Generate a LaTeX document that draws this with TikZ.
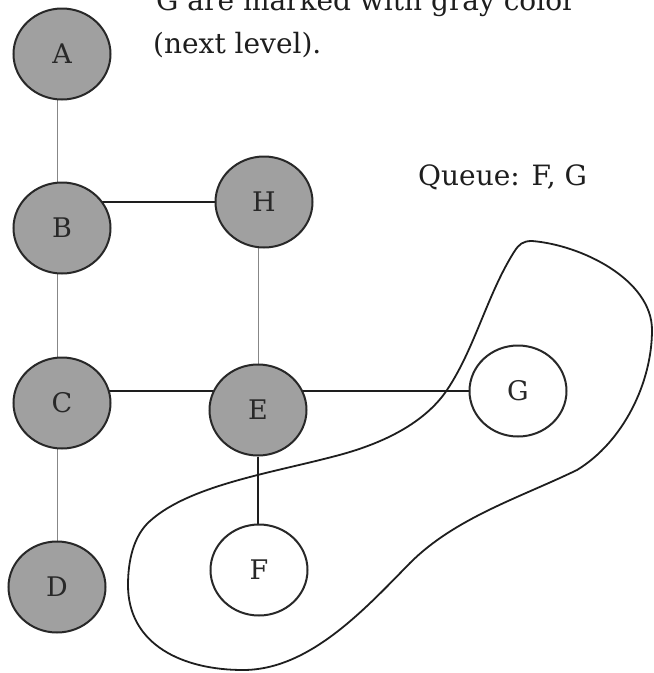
\documentclass[tikz,border=0pt]{standalone}
\usepackage{fontspec}
\setmainfont{DejaVu Serif}
\usepackage{tikz}
\usetikzlibrary{shapes.geometric, backgrounds}
\usepackage{xcolor}
\definecolor{visitgray}{RGB}{160, 160, 160}
\definecolor{rimgray}{RGB}{40, 40, 40}
\definecolor{edgegray}{RGB}{135, 135, 135}
\definecolor{inkblack}{RGB}{30, 30, 30}

\tikzset{
  vertex/.style={ellipse, draw=rimgray, line width=2pt, inner sep=0pt,
    minimum width=97pt, minimum height=91pt, text=rimgray,
    font=\fontsize{27}{32}\selectfont},
  visited/.style={vertex, fill=visitgray},
  fresh/.style={vertex, fill=white},
  lightedge/.style={edgegray, line width=1pt},
  heavyedge/.style={inkblack, line width=2.8pt},
  note/.style={anchor=base west, inner sep=0pt, text=inkblack,
    font=\fontsize{28}{34}\selectfont}
}

\begin{document}
\begin{tikzpicture}[x=1pt, y=-1pt]
    \useasboundingbox (0,0) rectangle (654,673);

    % caption text
    \node[note] (capone) at (156,10) {G are marked with gray color};
    \node[note] (captwo) at (153,53) {(next level).};
    \node[note] (queue) at (418,185) {Queue: F, G};

    % vertices already reached
    \foreach \name/\x/\y in {A/62/54, B/62/228, H/264/202, C/62/403, E/258/410, D/57/587}{
      \node[visited] (\name) at (\x,\y) {\name};
    }

    % vertices of the next level
    \foreach \name/\x/\y in {G/518/391, F/259/570}{
      \node[fresh] (\name) at (\x,\y) {\name};
    }

    % edges, behind the vertices
    \begin{scope}[on background layer]
      \draw[lightedge] (D |- A) -- (D |- B);
      \draw[lightedge] (D |- B) -- (D |- C);
      \draw[lightedge] (D |- C) -- (D);
      \draw[lightedge] (E |- H) -- (E);
      \draw[heavyedge] (B |- H) -- (H);
      \draw[heavyedge] (C |- G) -- (E |- G);
      \draw[heavyedge] (E |- G) -- (G);
      \draw[heavyedge] (E) -- (E |- F);
    \end{scope}

    % boundary round the next level
    \draw[inkblack, line width=1.8pt, line join=round]
      (532,241) .. controls (582,245) and (652,280) .. (652,330)
      .. controls (652,383) and (623,442) .. (577,470)
      .. controls (519,498) and (455,518) .. (410,563)
      .. controls (364,610) and (309,670) .. (243,670)
      .. controls (183,670) and (128,645) .. (128,585)
      .. controls (128,562) and (133,536) .. (150,521)
      .. controls (191,484) and (278,472) .. (343,454)
      .. controls (382,443) and (424,424) .. (447,390)
      .. controls (475,348) and (487,295) .. (514,252)
      .. controls (519,244) and (523,241) .. cycle;

\end{tikzpicture}
\end{document}
